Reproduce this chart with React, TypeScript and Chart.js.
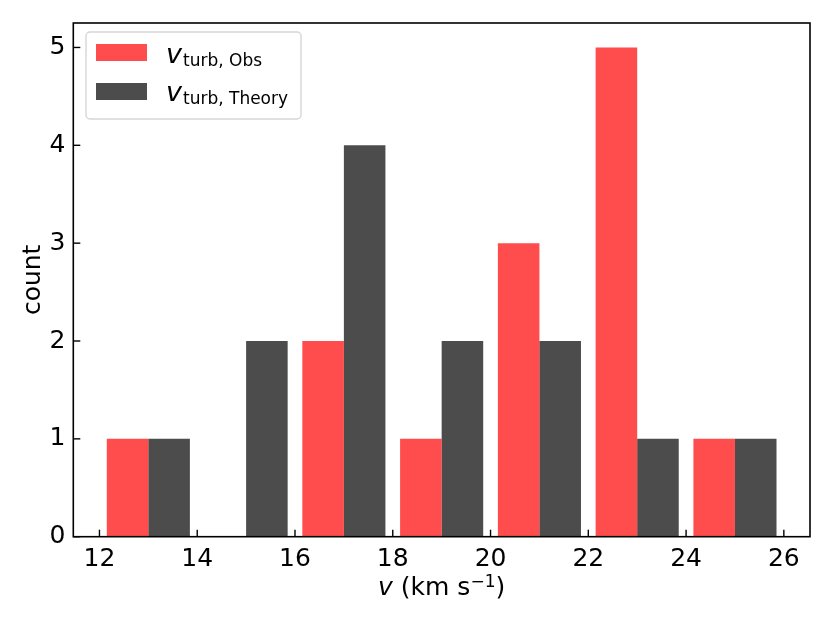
import { useEffect, useRef } from "react";
import { Chart, registerables } from "chart.js";

Chart.register(...registerables);

const binCenters = [13, 15, 17, 19, 21, 23, 25];
const obsCounts = [1, 0, 2, 1, 3, 5, 1];
const theoryCounts = [1, 2, 4, 2, 2, 1, 1];
const xTicks = [12, 14, 16, 18, 20, 22, 24, 26];
const yTicks = [0, 1, 2, 3, 4, 5];

const FONT = "'DejaVu Sans', sans-serif";
const RED = "rgba(255, 0, 0, 0.7)";
const GREY = "rgba(0, 0, 0, 0.7)";

// frame, inward ticks, axis labels and the mathtext legend
const decorations = {
  id: "decorations",
  afterDraw(chart: any) {
    const { ctx, chartArea: a, scales } = chart;
    ctx.save();
    ctx.strokeStyle = "#000";
    ctx.lineWidth = 1.4;
    for (const t of xTicks) {
      const px = scales.x.getPixelForValue(t);
      ctx.beginPath();
      ctx.moveTo(px, a.bottom);
      ctx.lineTo(px, a.bottom - 7);
      ctx.stroke();
    }
    for (const t of yTicks) {
      const py = scales.y.getPixelForValue(t);
      ctx.beginPath();
      ctx.moveTo(a.left, py);
      ctx.lineTo(a.left + 7, py);
      ctx.stroke();
    }
    ctx.lineWidth = 1.6;
    ctx.strokeRect(a.left, a.top, a.right - a.left, a.bottom - a.top);

    ctx.fillStyle = "#000";
    // y label
    ctx.save();
    ctx.translate(40, (a.top + a.bottom) / 2);
    ctx.rotate(-Math.PI / 2);
    ctx.font = `25px ${FONT}`;
    ctx.textAlign = "center";
    ctx.textBaseline = "alphabetic";
    ctx.fillText("count", 0, 0);
    ctx.restore();

    // x label: v (km s^-1)
    const parts = [
      { t: "v", f: `italic 25px ${FONT}`, dy: 0 },
      { t: " (km s", f: `25px ${FONT}`, dy: 0 },
      { t: "\u22121", f: `17px ${FONT}`, dy: -8 },
      { t: ")", f: `25px ${FONT}`, dy: 0 },
    ];
    let total = 0;
    for (const p of parts) {
      ctx.font = p.f;
      total += ctx.measureText(p.t).width;
    }
    let x = (a.left + a.right) / 2 - total / 2;
    const base = 595;
    ctx.textAlign = "left";
    ctx.textBaseline = "alphabetic";
    for (const p of parts) {
      ctx.font = p.f;
      ctx.fillText(p.t, x, base + p.dy);
      x += ctx.measureText(p.t).width;
    }

    // legend
    const bx = 86, by = 32, bw = 215, bh = 87, r = 4;
    ctx.beginPath();
    ctx.moveTo(bx + r, by);
    ctx.arcTo(bx + bw, by, bx + bw, by + bh, r);
    ctx.arcTo(bx + bw, by + bh, bx, by + bh, r);
    ctx.arcTo(bx, by + bh, bx, by, r);
    ctx.arcTo(bx, by, bx + bw, by, r);
    ctx.closePath();
    ctx.fillStyle = "rgba(255,255,255,0.8)";
    ctx.fill();
    ctx.strokeStyle = "#d6d6d6";
    ctx.lineWidth = 1.4;
    ctx.stroke();

    const rows = [
      { c: RED, sub: "turb, Obs", hy: 44, base: 63 },
      { c: GREY, sub: "turb, Theory", hy: 83, base: 101 },
    ];
    for (const row of rows) {
      ctx.fillStyle = row.c;
      ctx.fillRect(96, row.hy, 51, 17);
      ctx.fillStyle = "#000";
      ctx.font = `italic 27px ${FONT}`;
      ctx.fillText("v", 166, row.base);
      const vw = ctx.measureText("v").width;
      ctx.font = `17px ${FONT}`;
      ctx.fillText(row.sub, 166 + vw + 1, row.base + 3);
    }
    ctx.restore();
  },
};

export default function App() {
  const canvasRef = useRef<HTMLCanvasElement>(null);
  const chartRef = useRef<Chart | null>(null);

  useEffect(() => {
    if (!canvasRef.current) return;
    chartRef.current?.destroy();
    chartRef.current = new Chart(canvasRef.current, {
      type: "bar",
      data: {
        datasets: [
          {
            label: "v turb, Obs",
            data: binCenters.map((x, i) => ({ x, y: obsCounts[i] })),
            backgroundColor: RED,
            borderWidth: 0,
          },
          {
            label: "v turb, Theory",
            data: binCenters.map((x, i) => ({ x, y: theoryCounts[i] })),
            backgroundColor: GREY,
            borderWidth: 0,
          },
        ],
      },
      options: {
        animation: false,
        responsive: true,
        maintainAspectRatio: false,
        datasets: { bar: { categoryPercentage: 0.85, barPercentage: 1.0 } },
        layout: { padding: { top: 20, right: 20, left: 0, bottom: 0 } },
        plugins: { legend: { display: false }, tooltip: { enabled: false } },
        scales: {
          x: {
            type: "linear",
            offset: false,
            min: 11.465,
            max: 26.535,
            grid: { display: false, drawTicks: false },
            border: { display: false },
            afterBuildTicks: (s: any) => {
              s.ticks = xTicks.map((v) => ({ value: v }));
            },
            afterFit: (s: any) => {
              s.height = 86.3;
            },
            ticks: {
              color: "#000",
              padding: 8,
              maxRotation: 0,
              autoSkip: false,
              font: { family: FONT, size: 25 },
            },
          },
          y: {
            min: 0,
            max: 5.25,
            grid: { display: false, drawTicks: false },
            border: { display: false },
            afterBuildTicks: (s: any) => {
              s.ticks = yTicks.map((v) => ({ value: v }));
            },
            afterFit: (s: any) => {
              s.width = 73.3;
            },
            ticks: {
              color: "#000",
              padding: 8,
              autoSkip: false,
              font: { family: FONT, size: 25 },
            },
          },
        },
      },
      plugins: [decorations],
    });
    return () => chartRef.current?.destroy();
  }, []);

  return (
    <div style={{ position: "fixed", left: 0, top: 0, width: 830, height: 623, background: "#fff" }}>
      <canvas ref={canvasRef} />
    </div>
  );
}
